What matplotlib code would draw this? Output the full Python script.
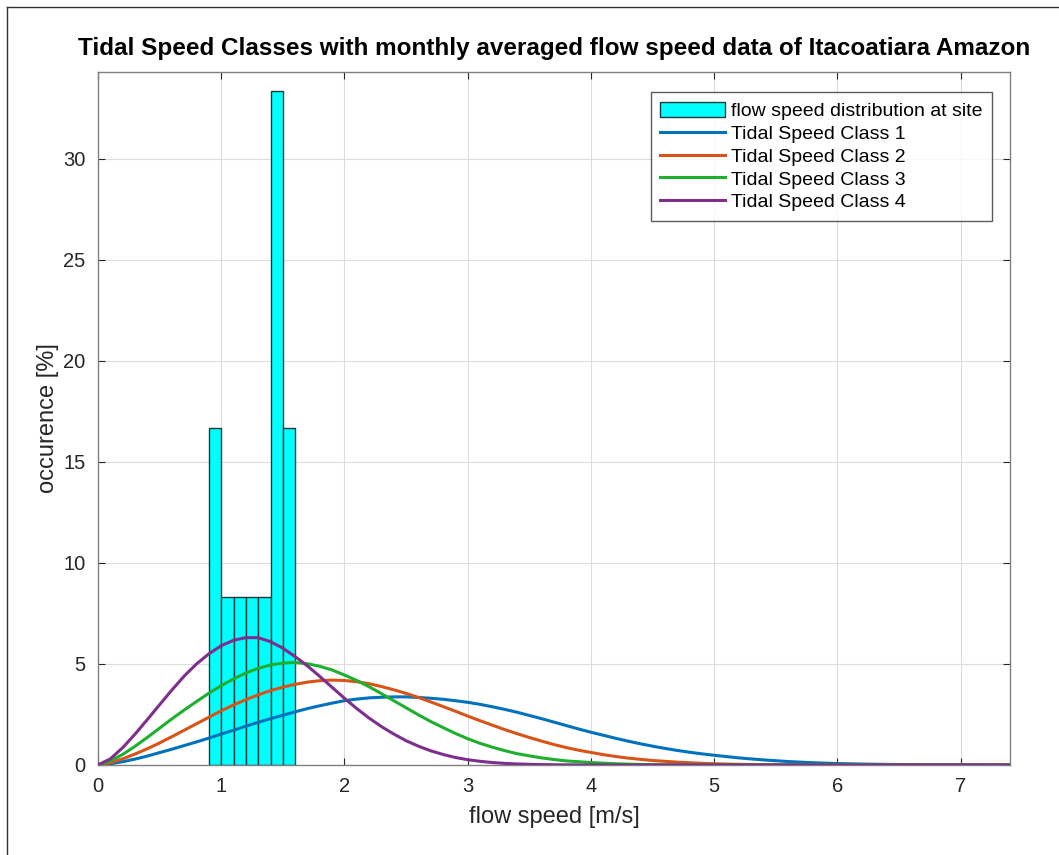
import matplotlib
matplotlib.use("Agg")
import matplotlib.pyplot as plt
from matplotlib.lines import Line2D

plt.rcParams['font.family'] = ['Liberation Sans', 'DejaVu Sans']

# Histogram (monthly averaged flow speed, % occurrence)
bin_edges = [0.9, 1.0, 1.1, 1.2, 1.3, 1.4, 1.5, 1.6]
occurrence = [16.67, 8.33, 8.33, 8.33, 8.33, 33.33, 16.67]

# Tidal speed class curves
speed = [0.0, 0.1, 0.2, 0.3, 0.4, 0.5, 0.6, 0.7, 0.8, 0.9,
         1.0, 1.1, 1.2, 1.3, 1.4, 1.5, 1.6, 1.7, 1.8, 1.9,
         2.0, 2.1, 2.2, 2.3, 2.4, 2.5, 2.6, 2.7, 2.8, 2.9,
         3.0, 3.1, 3.2, 3.3, 3.4, 3.5, 3.6, 3.7, 3.8, 3.9,
         4.0, 4.1, 4.2, 4.3, 4.4, 4.5, 4.6, 4.7, 4.8, 4.9,
         5.0, 5.2, 5.4, 5.6, 5.8, 6.0, 6.2, 6.4, 6.6, 6.8, 7.0, 7.2, 7.4]
class1 = [0.0, 0.06, 0.16, 0.29, 0.44, 0.61, 0.78, 0.96, 1.14, 1.33,
          1.53, 1.72, 1.92, 2.11, 2.29, 2.46, 2.63, 2.79, 2.93, 3.06,
          3.18, 3.26, 3.32, 3.35, 3.37, 3.37, 3.34, 3.30, 3.25, 3.18,
          3.10, 3.00, 2.88, 2.75, 2.61, 2.45, 2.29, 2.12, 1.95, 1.78,
          1.62, 1.47, 1.32, 1.18, 1.05, 0.93, 0.82, 0.72, 0.63, 0.55,
          0.48, 0.35, 0.25, 0.17, 0.11, 0.07, 0.045, 0.028, 0.016, 0.009, 0.005, 0.002, 0.001]
class2 = [0.0, 0.11, 0.30, 0.54, 0.80, 1.09, 1.40, 1.72, 2.04, 2.36,
          2.68, 2.97, 3.23, 3.47, 3.68, 3.85, 3.99, 4.10, 4.17, 4.20,
          4.18, 4.12, 4.02, 3.88, 3.72, 3.54, 3.34, 3.12, 2.89, 2.66,
          2.42, 2.19, 1.97, 1.75, 1.55, 1.36, 1.18, 1.01, 0.86, 0.73,
          0.62, 0.51, 0.42, 0.34, 0.28, 0.22, 0.18, 0.14, 0.11, 0.08,
          0.06, 0.03, 0.015, 0.007, 0.003, 0.0, 0.0, 0.0, 0.0, 0.0, 0.0, 0.0, 0.0]
class3 = [0.0, 0.20, 0.52, 0.92, 1.36, 1.82, 2.28, 2.72, 3.14, 3.55,
          3.92, 4.26, 4.55, 4.78, 4.95, 5.04, 5.07, 5.01, 4.88, 4.70,
          4.45, 4.18, 3.87, 3.53, 3.18, 2.83, 2.48, 2.15, 1.85, 1.56,
          1.30, 1.07, 0.88, 0.71, 0.56, 0.45, 0.35, 0.27, 0.20, 0.16,
          0.12, 0.09, 0.06, 0.04, 0.025, 0.017, 0.01, 0.008, 0.005, 0.003,
          0.0, 0.0, 0.0, 0.0, 0.0, 0.0, 0.0, 0.0, 0.0, 0.0, 0.0, 0.0, 0.0]
class4 = [0.0, 0.30, 0.85, 1.52, 2.24, 2.98, 3.71, 4.40, 5.00, 5.50,
          5.90, 6.17, 6.30, 6.30, 6.10, 5.78, 5.36, 4.90, 4.38, 3.84,
          3.30, 2.79, 2.32, 1.90, 1.53, 1.20, 0.93, 0.70, 0.52, 0.37,
          0.26, 0.18, 0.12, 0.079, 0.05, 0.032, 0.019, 0.011, 0.006, 0.003,
          0.0, 0.0, 0.0, 0.0, 0.0, 0.0, 0.0, 0.0, 0.0, 0.0,
          0.0, 0.0, 0.0, 0.0, 0.0, 0.0, 0.0, 0.0, 0.0, 0.0, 0.0, 0.0, 0.0]

class_labels = ['Tidal Speed Class 1', 'Tidal Speed Class 2',
                'Tidal Speed Class 3', 'Tidal Speed Class 4']
class_colors = ['#0072BD', '#D95319', '#1FAF2E', '#7E2F8E']
xticks = [0, 1, 2, 3, 4, 5, 6, 7]
yticks = [0, 5, 10, 15, 20, 25, 30]

fig = plt.figure(figsize=(10.59, 8.55), dpi=100)
ax = fig.add_axes([0.0925, 0.1053, 0.8612, 0.8108])

widths = [bin_edges[i + 1] - bin_edges[i] for i in range(len(occurrence))]
bars = ax.bar(bin_edges[:-1], occurrence, width=widths, align='edge',
              color='#00FFFF', edgecolor='#1a3a3a', linewidth=1.0,
              label='flow speed distribution at site', zorder=2)

lines = []
for yv, lab, col in zip([class1, class2, class3, class4], class_labels, class_colors):
    ln, = ax.plot(speed, yv, color=col, linewidth=2.2, label=lab, zorder=3)
    lines.append(ln)

ax.set_xlim(0, 7.4)
ax.set_ylim(0, 34.3)
ax.set_xticks(xticks)
ax.set_yticks(yticks)
ax.grid(True, color='#dcdcdc', linewidth=0.8, zorder=0)
ax.set_axisbelow(True)
ax.tick_params(direction='in', length=5, top=True, right=True,
               labelsize=14.5, colors='#262626', width=0.8, pad=9)
for sp in ax.spines.values():
    sp.set_color('#808080')
    sp.set_linewidth(1.0)

ax.set_xlabel('flow speed [m/s]', fontsize=17, color='#262626', labelpad=7)
ax.set_ylabel('occurence [%]', fontsize=17, color='#262626', labelpad=3)
ax.set_title('Tidal Speed Classes with monthly averaged flow speed data of Itacoatiara Amazon',
             fontsize=17.5, fontweight='bold', color='#000000', pad=12)

leg = ax.legend([bars] + lines, ['flow speed distribution at site'] + class_labels,
                loc='upper right', bbox_to_anchor=(0.9803, 0.9707),
                fontsize=14, frameon=True, fancybox=False, edgecolor='#333333',
                handlelength=3.3, handleheight=0.8, borderpad=0.5, labelspacing=0.24,
                handletextpad=0.32, borderaxespad=0.0)
leg.get_frame().set_linewidth(1.0)

# figure border lines (top and left)
fig.add_artist(Line2D([7 / 1059, 7 / 1059], [0, 1 - 7 / 855], transform=fig.transFigure,
                      color='#333333', linewidth=1.0))
fig.add_artist(Line2D([7 / 1059, 1], [1 - 7 / 855, 1 - 7 / 855], transform=fig.transFigure,
                      color='#333333', linewidth=1.0))

fig.savefig('out.png', dpi=100)
